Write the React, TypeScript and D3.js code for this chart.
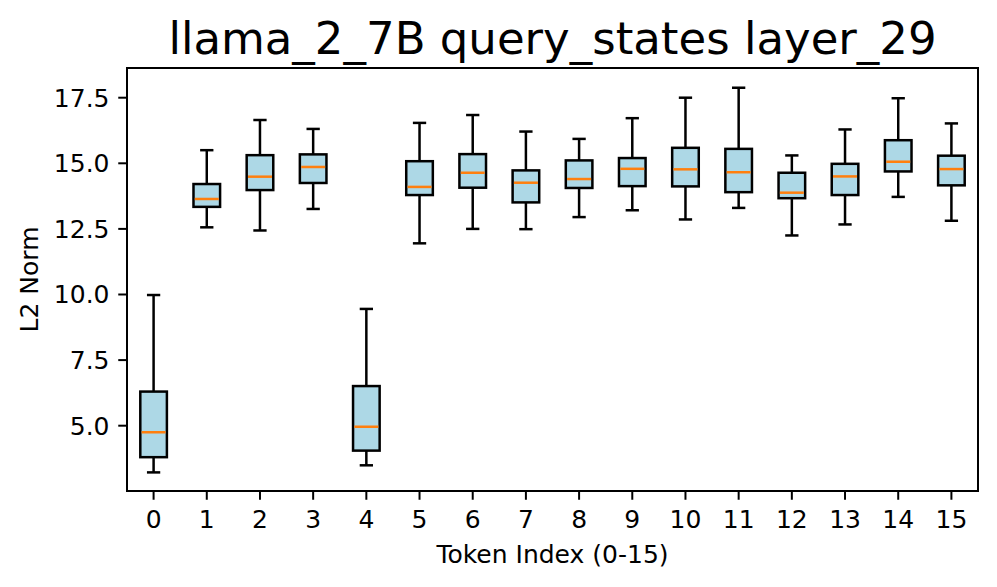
import React from "react";
import * as d3 from "d3";

const tokens = ["0","1","2","3","4","5","6","7","8","9","10","11","12","13","14","15"];
const whiskerLow = [3.22,12.56,12.44,13.26,3.49,11.95,12.50,12.49,12.95,13.21,12.86,13.30,12.25,12.67,13.72,12.81];
const q1 = [3.80,13.34,13.98,14.25,4.05,13.79,14.07,13.51,14.06,14.13,14.12,13.90,13.67,13.79,14.69,14.16];
const medians = [4.75,13.64,14.49,14.86,4.96,14.10,14.64,14.26,14.40,14.79,14.77,14.66,13.88,14.50,15.06,14.78];
const q3 = [6.30,14.21,15.31,15.34,6.51,15.08,15.35,14.73,15.11,15.20,15.59,15.55,14.64,14.98,15.88,15.29];
const whiskerHigh = [9.98,15.50,16.65,16.31,9.45,16.54,16.84,16.21,15.93,16.72,17.50,17.88,15.30,16.29,17.48,16.52];
const yTicks = [5, 7.5, 10, 12.5, 15, 17.5];

const W = 997, H = 587;
const L = 127, R = 978, T = 68, B = 491;
const FONT = "DejaVu Sans, sans-serif";

export default function App() {
  const x = d3.scaleLinear().domain([-0.5, tokens.length - 0.5]).range([L, R]);
  const y = d3.scaleLinear().domain([2.511, 18.632]).range([B, T]);
  const boxHalf = (x(0.5) - x(0)) / 2; // width 0.5
  const capHalf = boxHalf / 2;
  const fmt = d3.format(".1f");
  const lw = 2.5;
  const tickLen = 8.75;

  return (
    <svg width={W} height={H} style={{ position: "absolute", left: 0, top: 0, background: "#fff" }} fontFamily={FONT}>
      <rect x={0} y={0} width={W} height={H} fill="#fff" />
      {tokens.map((t, i) => {
        const cx = x(i);
        return (
          <g key={t}>
            <line x1={cx} x2={cx} y1={y(whiskerLow[i])} y2={y(q1[i])} stroke="#000" strokeWidth={lw} />
            <line x1={cx} x2={cx} y1={y(q3[i])} y2={y(whiskerHigh[i])} stroke="#000" strokeWidth={lw} />
            <line x1={cx - capHalf} x2={cx + capHalf} y1={y(whiskerLow[i])} y2={y(whiskerLow[i])} stroke="#000" strokeWidth={lw} />
            <line x1={cx - capHalf} x2={cx + capHalf} y1={y(whiskerHigh[i])} y2={y(whiskerHigh[i])} stroke="#000" strokeWidth={lw} />
            <rect x={cx - boxHalf} width={boxHalf * 2} y={y(q3[i])} height={y(q1[i]) - y(q3[i])} fill="#add8e6" stroke="#000" strokeWidth={lw} />
            <line x1={cx - boxHalf + 1.3} x2={cx + boxHalf - 1.3} y1={y(medians[i])} y2={y(medians[i])} stroke="#ff7f0e" strokeWidth={lw} />
          </g>
        );
      })}
      <rect x={L} y={T} width={R - L} height={B - T} fill="none" stroke="#000" strokeWidth={2} />
      {yTicks.map((v) => (
        <g key={v}>
          <line x1={L - tickLen} x2={L} y1={y(v)} y2={y(v)} stroke="#000" strokeWidth={2} />
          <text x={L - tickLen - 8.75} y={y(v)} dy="0.36em" textAnchor="end" fontSize={25} fill="#000">{fmt(v)}</text>
        </g>
      ))}
      {tokens.map((t, i) => (
        <g key={"xt" + t}>
          <line x1={x(i)} x2={x(i)} y1={B} y2={B + tickLen} stroke="#000" strokeWidth={2} />
          <text x={x(i)} y={527.5} textAnchor="middle" fontSize={25} fill="#000">{t}</text>
        </g>
      ))}
      <text x={(L + R) / 2} y={563} textAnchor="middle" fontSize={25} fill="#000">Token Index (0-15)</text>
      <text transform={`translate(38,${(T + B) / 2}) rotate(-90)`} textAnchor="middle" fontSize={25} fill="#000">L2 Norm</text>
      <text x={(L + R) / 2} y={54} textAnchor="middle" fontSize={45} fill="#000">llama_2_7B query_states layer_29</text>
    </svg>
  );
}
